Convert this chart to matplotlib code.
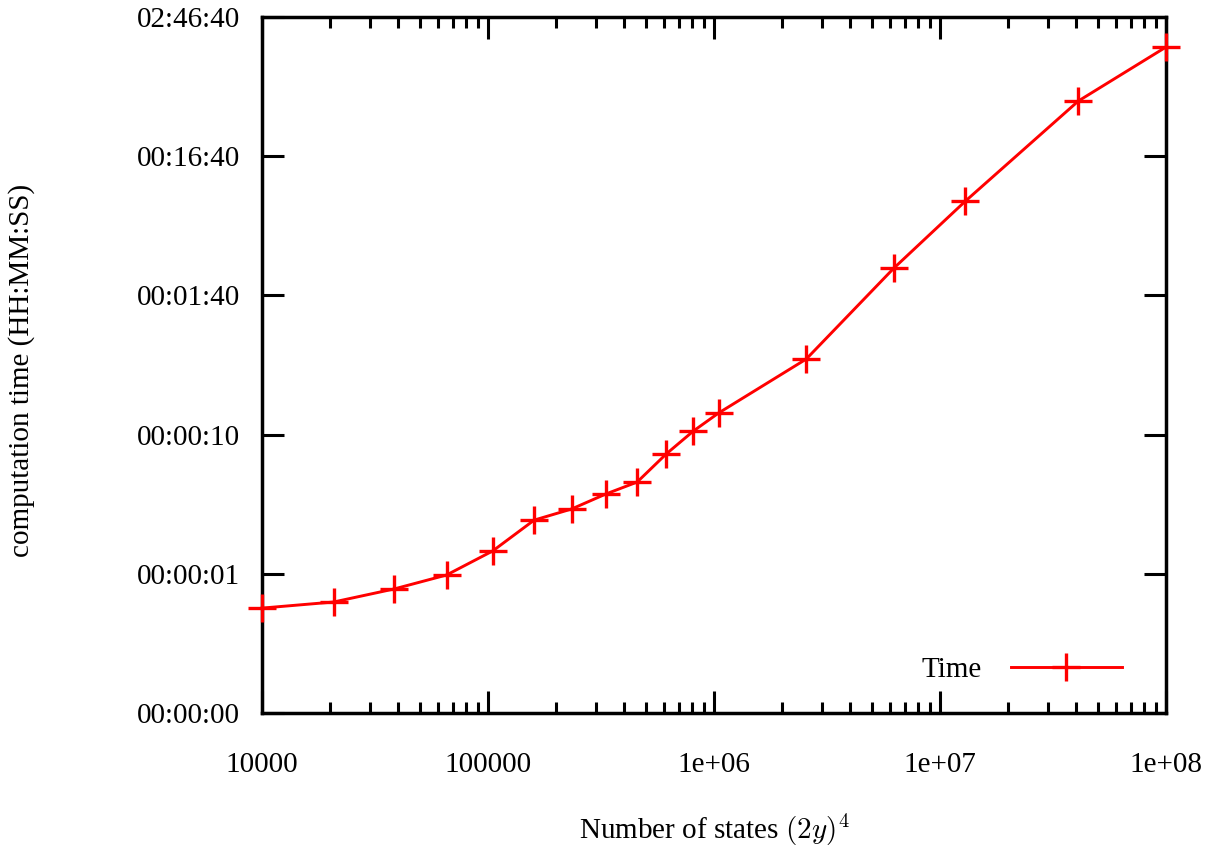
import numpy as np
import matplotlib
matplotlib.use("Agg")
import matplotlib.pyplot as plt
from matplotlib.ticker import FixedLocator, FuncFormatter, LogLocator, NullLocator

plt.rcParams['font.family'] = ['Liberation Serif', 'DejaVu Serif']
plt.rcParams['mathtext.fontset'] = 'cm'

# number of states (2y)^4 and computation time in seconds
y_param = [5, 6, 7, 8, 9, 10, 11, 12, 13, 14, 15, 16, 20, 25, 30, 40, 50]
times = [0.567, 0.627, 0.778, 0.98, 1.46, 2.43, 2.92, 3.74, 4.56, 7.26,
         10.6, 14.3, 34.9, 157, 476, 2493, 6083]
states = [(2 * y) ** 4 for y in y_param]

y_ticks = [0.1, 1, 10, 100, 1000, 10000]
x_ticks = [1e4, 1e5, 1e6, 1e7, 1e8]
x_labels = ["10000", "100000", "1e+06", "1e+07", "1e+08"]


def hms(t, pos=None):
    s = int(t)
    return "%02d:%02d:%02d" % (s // 3600, (s % 3600) // 60, s % 60)


fig = plt.figure(figsize=(12.13, 8.5), dpi=100)
ax = fig.add_axes([262 / 1213, 1 - 713 / 850, (1166 - 262) / 1213, (713 - 17) / 850])

ax.plot(states, times, color="red", lw=2.1, marker="+", ms=20, mew=2.4,
        clip_on=False, label="Time", zorder=3)

ax.set_xscale("log")
ax.set_yscale("log")
ax.set_xlim(1e4, 1e8)
ax.set_ylim(0.1, 10000)

ax.xaxis.set_major_locator(FixedLocator(x_ticks))
ax.set_xticklabels(x_labels)
ax.xaxis.set_minor_locator(LogLocator(base=10, subs=np.arange(2, 10)))
ax.xaxis.set_minor_formatter(plt.NullFormatter())
ax.yaxis.set_major_locator(FixedLocator(y_ticks))
ax.yaxis.set_major_formatter(FuncFormatter(hms))
ax.yaxis.set_minor_locator(NullLocator())

for s in ax.spines.values():
    s.set_linewidth(2.5)
ax.tick_params(which="both", direction="in", top=True, right=True, width=2.2,
               labelsize=21)
ax.tick_params(which="major", length=16)
ax.tick_params(which="minor", length=8)
ax.tick_params(axis="x", pad=28)
ax.tick_params(axis="y", pad=16)

fig.text(714 / 1213, 1 - 830 / 850, "Number of states $(2y)^4$", fontsize=21,
         ha="center", va="center")
fig.text(22 / 1213, 1 - 370 / 850, "computation time (HH:MM:SS)", fontsize=21,
         ha="center", va="center", rotation=90)

leg = ax.legend(loc="lower right", frameon=False, fontsize=21, markerfirst=False,
                handlelength=3.8, handletextpad=1.0, bbox_to_anchor=(0.98, 0.005))

fig.savefig("out.png", dpi=100)
